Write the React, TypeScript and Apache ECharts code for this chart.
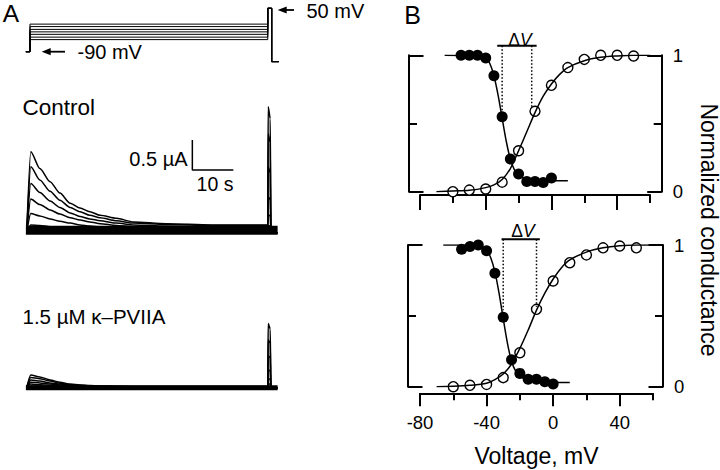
import { useEffect, useRef } from "react";
import * as echarts from "echarts";

const FONT = "'Liberation Sans', Arial, Helvetica, sans-serif";
const INK = "#000";

// ---------------- Panel A: voltage protocol (mV, s) ----------------
const PROTO_PREPULSE_MV = [-1, -9, -18, -26, -34, -43, -51];
const PROTO_HOLD_MV = -90;
const PROTO_TEST_MV = 50;
const PROTO_POST_MV = -122;
const PROTO_EDGES_S = [-0.2, 0.8, 58.8, 59.75, 61.5];

// ---------------- Panel A: current traces (s, µA) ----------------
const TRACE_T = [0, 1, 3.2, 5.7, 8.1, 10.6, 13, 15.4, 17.9, 21.9, 26, 34, 45, 58.8];
const SPIKE_T = [58.9, 59.4, 59.55, 61.2];

const CONTROL_TRACES = [
  [0, 1.35, 1.07, 0.85, 0.66, 0.49, 0.41, 0.35, 0.29, 0.24, 0.18, 0.15, 0.13, 0.13],
  [0, 1.1, 0.88, 0.69, 0.54, 0.42, 0.35, 0.29, 0.25, 0.2, 0.16, 0.14, 0.12, 0.12],
  [0, 0.82, 0.67, 0.53, 0.42, 0.33, 0.27, 0.23, 0.2, 0.16, 0.13, 0.11, 0.1, 0.1],
  [0, 0.56, 0.47, 0.38, 0.31, 0.25, 0.21, 0.18, 0.15, 0.12, 0.1, 0.09, 0.08, 0.08],
  [0, 0.32, 0.28, 0.23, 0.19, 0.16, 0.13, 0.11, 0.1, 0.08, 0.07, 0.06, 0.06, 0.06],
  [0, 0.13, 0.12, 0.1, 0.09, 0.07, 0.06, 0.05, 0.05, 0.04, 0.04, 0.04, 0.04, 0.04],
  [0, 0.05, 0.05, 0.04, 0.04, 0.03, 0.03, 0.03, 0.02, 0.02, 0.02, 0.02, 0.02, 0.02],
];
const CONTROL_SPIKE_PEAK = [2.1, 1.65, 1.1, 0.6, 0.3, 0.12, 0.04];
const CONTROL_SPIKE_FALL = [1.9, 1.5, 1.0, 0.55, 0.28, 0.11, 0.04];
const CONTROL_NOISE_LEVEL = 0.04;

const TOXIN_TRACES = [
  [0, 0.21, 0.18, 0.13, 0.09, 0.06, 0.045, 0.035, 0.03, 0.025, 0.02, 0.02, 0.02, 0.02],
  [0, 0.17, 0.15, 0.11, 0.075, 0.05, 0.04, 0.03, 0.025, 0.02, 0.02, 0.02, 0.02, 0.02],
  [0, 0.13, 0.11, 0.08, 0.06, 0.04, 0.03, 0.025, 0.02, 0.02, 0.015, 0.015, 0.015, 0.015],
  [0, 0.09, 0.08, 0.06, 0.045, 0.03, 0.025, 0.02, 0.015, 0.015, 0.01, 0.01, 0.01, 0.01],
  [0, 0.06, 0.05, 0.04, 0.03, 0.02, 0.015, 0.015, 0.01, 0.01, 0.01, 0.01, 0.01, 0.01],
  [0, 0.03, 0.03, 0.02, 0.015, 0.01, 0.01, 0.01, 0.005, 0.005, 0.005, 0.005, 0.005, 0.005],
  [0, 0.01, 0.01, 0.01, 0.005, 0.005, 0.005, 0, 0, 0, 0, 0, 0, 0],
];
const TOXIN_SPIKE_PEAK = [1.07, 0.8, 0.53, 0.3, 0.15, 0.06, 0.02];
const TOXIN_SPIKE_FALL = [0.98, 0.74, 0.5, 0.28, 0.14, 0.06, 0.02];
const TOXIN_NOISE_LEVEL = 0.0;

// scale bar: 10 s, 0.5 µA
const SCALEBAR_T = [40.4, 50.4];
const SCALEBAR_I = [1.045, 1.545];

// ---------------- Panel B: conductance (mV, normalized) ----------------
const V_ACT = [-60, -50, -40, -30, -20, -10, 0, 10, 20, 30, 40, 50];
const V_INACT = [-55, -50, -45, -40, -35, -30, -25, -20, -15, -10, -5, 0];

const TOP_ACT = [0.0, 0.012, 0.02, 0.07, 0.3, 0.59, 0.78, 0.91, 0.97, 1.0, 1.0, 0.995];
const TOP_INACT = [1.0, 1.0, 1.0, 0.98, 0.85, 0.55, 0.24, 0.13, 0.074, 0.074, 0.067, 0.1];
const BOT_ACT = [0.0, 0.01, 0.016, 0.064, 0.24, 0.546, 0.746, 0.875, 0.93, 0.98, 0.993, 0.98];
const BOT_INACT = [0.97, 0.99, 1.0, 0.96, 0.8, 0.49, 0.19, 0.094, 0.052, 0.052, 0.035, 0.019];

const FIT_ACT_V = [-70, -60, -50, -40, -35, -30, -25, -20, -15, -10, -5, 0, 5, 10, 20, 30, 40, 50, 60];
const TOP_ACT_FIT = [0.0, 0.005, 0.01, 0.03, 0.05, 0.09, 0.17, 0.3, 0.44, 0.58, 0.7, 0.79, 0.86, 0.91, 0.96, 0.985, 0.995, 1.0, 1.0];
const BOT_ACT_FIT = [0.0, 0.003, 0.01, 0.025, 0.05, 0.09, 0.16, 0.27, 0.4, 0.54, 0.66, 0.76, 0.84, 0.895, 0.95, 0.98, 0.995, 1.0, 1.0];

const TOP_INACT_FIT_V = [-65, -45, -40, -37.5, -35, -32.5, -30, -27.5, -25, -22.5, -20, -15, -10, 0, 10];
const TOP_INACT_FIT = [1.0, 0.995, 0.98, 0.94, 0.85, 0.71, 0.54, 0.37, 0.24, 0.16, 0.12, 0.09, 0.085, 0.08, 0.08];
const BOT_INACT_FIT_V = [-66, -50, -45, -40, -37.5, -35, -32.5, -30, -27.5, -25, -22.5, -20, -15, -10, 0, 10];
const BOT_INACT_FIT = [1.0, 1.0, 0.99, 0.96, 0.91, 0.81, 0.66, 0.48, 0.31, 0.18, 0.11, 0.075, 0.045, 0.035, 0.03, 0.03];

// ΔV markers: half-voltages, bar extent, bar level, dotted-line ends
const DV_TOP_V = [-30, -12];
const DV_TOP_BAR = [-33, -9];
const DV_TOP_LEVEL = 1.07;
const DV_TOP_DOT_END = [0.56, 0.62];
const DV_BOT_V = [-30, -10];
const DV_BOT_BAR = [-31, -8];
const DV_BOT_LEVEL = 1.04;
const DV_BOT_DOT_END = [0.54, 0.565];

const X_TICKS_MAJOR = [-80, -40, 0, 40];

function buildOption() {
  const tracePanelX = { min: -1, max: 62 };
  const hiddenAxis = (gridIndex: number, min: number, max: number) => ({
    type: "value",
    gridIndex,
    min,
    max,
    show: false,
  });

  const inkLine = { color: INK, width: 2 };

  const bX = (gridIndex: number, offset: number, minorLen: number, majorLen: number, labels: boolean) => [
    {
      type: "value",
      gridIndex,
      position: "bottom",
      min: -80,
      max: 60,
      interval: 20,
      offset,
      axisLine: { show: true, onZero: false, lineStyle: inkLine },
      axisTick: { show: true, length: minorLen, lineStyle: inkLine },
      axisLabel: { show: false },
      splitLine: { show: false },
    },
    {
      type: "value",
      gridIndex,
      position: "bottom",
      min: -80,
      max: 60,
      interval: 20,
      offset,
      axisLine: { show: false, onZero: false },
      axisTick: { show: true, length: majorLen, customValues: X_TICKS_MAJOR, lineStyle: inkLine },
      axisLabel: labels
        ? { show: true, customValues: X_TICKS_MAJOR, fontSize: 18.5, color: INK, fontFamily: FONT, margin: 20 }
        : { show: false },
      splitLine: { show: false },
      name: labels ? "Voltage, mV" : "",
      nameLocation: "middle",
      nameGap: 51,
      nameTextStyle: { fontSize: 23, color: INK, fontFamily: FONT },
    },
  ];

  const bY = (gridIndex: number, position: string, offset: number, labels: boolean) => ({
    type: "value",
    gridIndex,
    position,
    min: 0,
    max: 1,
    interval: 1,
    offset,
    axisLine: { show: true, onZero: false, lineStyle: inkLine },
    axisTick: { show: true, inside: true, length: 14.5, lineStyle: inkLine },
    minorTick: { show: true, splitNumber: 2, length: 8, lineStyle: inkLine },
    axisLabel: labels ? { show: true, fontSize: 18.5, color: INK, fontFamily: FONT, margin: 11 } : { show: false },
    splitLine: { show: false },
    minorSplitLine: { show: false },
  });

  const series: any[] = [];

  // protocol
  PROTO_PREPULSE_MV.forEach((lvl, i) => {
    const [t0, t1, t2, t3, t4] = PROTO_EDGES_S;
    series.push({
      type: "line",
      name: `protocol ${i}`,
      xAxisIndex: 0,
      yAxisIndex: 0,
      showSymbol: false,
      silent: true,
      lineStyle: { color: INK, width: 1 },
      data: [
        [t0, PROTO_HOLD_MV],
        [t1, PROTO_HOLD_MV],
        [t1, lvl],
        [t2, lvl],
        [t2, PROTO_TEST_MV],
        [t3, PROTO_TEST_MV],
        [t3, PROTO_POST_MV],
        [t4, PROTO_POST_MV],
      ],
    });
  });

  const traceSeries = (
    axis: number,
    traces: number[][],
    peaks: number[],
    falls: number[],
    noise: number,
    noiseWidth: number,
    tag: string
  ) => {
    series.push({
      type: "line",
      name: `${tag} noise`,
      xAxisIndex: axis,
      yAxisIndex: axis,
      showSymbol: false,
      silent: true,
      lineStyle: { color: INK, width: noiseWidth },
      data: [
        [-0.2, noise],
        [SPIKE_T[3], noise],
      ],
    });
    traces.forEach((vals, k) => {
      const d: number[][] = TRACE_T.map((t, i) => [t, vals[i]]);
      d.push([SPIKE_T[0], peaks[k]], [SPIKE_T[1], falls[k]], [SPIKE_T[2], 0], [SPIKE_T[3], 0]);
      series.push({
        type: "line",
        name: `${tag} ${k}`,
        xAxisIndex: axis,
        yAxisIndex: axis,
        showSymbol: false,
        silent: true,
        smooth: 0.25,
        smoothMonotone: "x",
        lineStyle: { color: INK, width: 1.5 },
        data: d,
      });
    });
  };
  traceSeries(1, CONTROL_TRACES, CONTROL_SPIKE_PEAK, CONTROL_SPIKE_FALL, CONTROL_NOISE_LEVEL, 9, "control");
  traceSeries(2, TOXIN_TRACES, TOXIN_SPIKE_PEAK, TOXIN_SPIKE_FALL, TOXIN_NOISE_LEVEL, 5, "toxin");

  series.push({
    type: "line",
    name: "scale bar",
    xAxisIndex: 1,
    yAxisIndex: 1,
    showSymbol: false,
    silent: true,
    lineStyle: { color: INK, width: 1.5 },
    data: [
      [SCALEBAR_T[0], SCALEBAR_I[1]],
      [SCALEBAR_T[0], SCALEBAR_I[0]],
      [SCALEBAR_T[1], SCALEBAR_I[0]],
    ],
  });

  const bSeries = (
    xi: number,
    yi: number,
    actFit: number[],
    inactV: number[],
    inactFit: number[],
    act: number[],
    inact: number[],
    dvV: number[],
    dvBar: number[],
    dvLevel: number,
    dvDot: number[]
  ) => {
    const common = { xAxisIndex: xi, yAxisIndex: yi, silent: true };
    series.push({
      ...common,
      type: "line",
      showSymbol: false,
      smooth: 0.3,
      lineStyle: { color: INK, width: 1.5 },
      data: inactV.map((v, i) => [v, inactFit[i]]),
    });
    series.push({
      ...common,
      type: "line",
      showSymbol: false,
      smooth: 0.3,
      lineStyle: { color: INK, width: 1.5 },
      data: FIT_ACT_V.map((v, i) => [v, actFit[i]]),
    });
    series.push({
      ...common,
      type: "line",
      showSymbol: false,
      clip: false,
      lineStyle: { color: INK, width: 2 },
      data: [
        [dvBar[0], dvLevel],
        [dvBar[1], dvLevel],
      ],
    });
    dvV.forEach((v, i) => {
      series.push({
        ...common,
        type: "line",
        showSymbol: false,
        clip: false,
        lineStyle: { color: INK, width: 1.5, type: [1.5, 2] },
        data: [
          [v, dvLevel],
          [v, dvDot[i]],
        ],
      });
    });
    series.push({
      ...common,
      type: "scatter",
      symbol: "circle",
      symbolSize: 10,
      itemStyle: { color: "#fff", borderColor: INK, borderWidth: 1.4, opacity: 1 },
      data: V_ACT.map((v, i) => [v, act[i]]),
    });
    series.push({
      ...common,
      type: "scatter",
      symbol: "circle",
      symbolSize: 11,
      itemStyle: { color: INK, opacity: 1 },
      data: V_INACT.map((v, i) => [v, inact[i]]),
    });
  };
  bSeries(3, 3, TOP_ACT_FIT, TOP_INACT_FIT_V, TOP_INACT_FIT, TOP_ACT, TOP_INACT, DV_TOP_V, DV_TOP_BAR, DV_TOP_LEVEL, DV_TOP_DOT_END);
  bSeries(5, 5, BOT_ACT_FIT, BOT_INACT_FIT_V, BOT_INACT_FIT, BOT_ACT, BOT_INACT, DV_BOT_V, DV_BOT_BAR, DV_BOT_LEVEL, DV_BOT_DOT_END);

  const txt = (text: string, x: number, y: number, size: number, align = "left", lineHeight?: number) => ({
    type: "text",
    x,
    y,
    silent: true,
    style: {
      text,
      fill: INK,
      fontSize: size,
      fontFamily: FONT,
      lineHeight: lineHeight ?? size,
      align,
      verticalAlign: "middle",
      textAlign: align,
      textVerticalAlign: "middle",
    },
  });

  const dvText = (x: number, y: number) => ({
    type: "text",
    x,
    y,
    silent: true,
    style: {
      text: "{a|Δ}{b|V}",
      fill: INK,
      align: "center",
      verticalAlign: "middle",
      textAlign: "center",
      textVerticalAlign: "middle",
      rich: {
        a: { fontSize: 17.5, fontFamily: FONT, fill: INK },
        b: { fontSize: 17.5, fontFamily: FONT, fontStyle: "italic", fill: INK },
      },
    },
  });

  const arrow = (tipX: number, y: number, headLen: number, tailX: number) => [
    {
      type: "polygon",
      silent: true,
      shape: { points: [[tipX, y], [tipX + headLen, y - 3.6], [tipX + headLen, y + 3.6]] },
      style: { fill: INK },
    },
    {
      type: "line",
      silent: true,
      shape: { x1: tipX + headLen - 1, y1: y, x2: tailX, y2: y },
      style: { stroke: INK, lineWidth: 1.8 },
    },
  ];

  const graphic = [
    txt("A", 11, 13.5, 24.5, "center", 22),
    txt("B", 412.5, 14.5, 25, "center", 22),
    ...arrow(277.7, 10, 9, 294),
    txt("50 mV", 306.5, 10.5, 20),
    ...arrow(41.7, 51.7, 9, 65),
    txt("-90 mV", 77.5, 52, 20),
    txt("Control", 22.5, 107.5, 22.5),
    txt("0.5 µA", 187.5, 158.5, 20, "right"),
    txt("10 s", 215, 183.5, 19.5, "center"),
    txt("1.5 µM κ–PVIIA", 22.5, 316.5, 20.5),
    dvText(520, 39.5),
    dvText(523, 230.5),
    {
      type: "text",
      x: 708.5,
      y: 230,
      rotation: -Math.PI / 2,
      silent: true,
      style: {
        text: "Normalized conductance",
        fill: INK,
        fontSize: 23,
        lineHeight: 19,
        fontFamily: FONT,
        align: "center",
        verticalAlign: "middle",
        textAlign: "center",
        textVerticalAlign: "middle",
      },
    },
  ];

  return {
    animation: false,
    backgroundColor: "#fff",
    textStyle: { fontFamily: FONT },
    grid: [
      { left: 22.6, top: 5.2, width: 258.3, height: 62, containLabel: false, outerBoundsMode: "none" },
      { left: 22.6, top: 94.7, width: 258.3, height: 156, containLabel: false, outerBoundsMode: "none" },
      { left: 22.6, top: 309.7, width: 258.3, height: 96, containLabel: false, outerBoundsMode: "none" },
      { left: 420, top: 55.3, width: 230, height: 136.4, containLabel: false, outerBoundsMode: "none" },
      { left: 420, top: 245, width: 233, height: 141.7, containLabel: false, outerBoundsMode: "none" },
    ],
    xAxis: [
      hiddenAxis(0, tracePanelX.min, tracePanelX.max),
      hiddenAxis(1, tracePanelX.min, tracePanelX.max),
      hiddenAxis(2, tracePanelX.min, tracePanelX.max),
      ...bX(3, 3.3, 8, 15, false),
      ...bX(4, 6.6, 7, 13, true),
    ],
    yAxis: [
      hiddenAxis(0, -140, 60),
      hiddenAxis(1, -0.3, 2.3),
      hiddenAxis(2, -0.3, 1.3),
      bY(3, "left", 11, false),
      bY(3, "right", 11.7, true),
      bY(4, "left", 12, false),
      bY(4, "right", 10, true),
    ],
    series,
    graphic,
  };
}

export default function App() {
  const ref = useRef<HTMLDivElement | null>(null);
  useEffect(() => {
    if (!ref.current) return;
    const chart = echarts.init(ref.current, null, { renderer: "svg" });
    chart.setOption(buildOption() as any);
    return () => chart.dispose();
  }, []);
  return (
    <div
      ref={ref}
      style={{ position: "fixed", left: 0, top: 0, width: 720, height: 470, background: "#fff" }}
    />
  );
}
